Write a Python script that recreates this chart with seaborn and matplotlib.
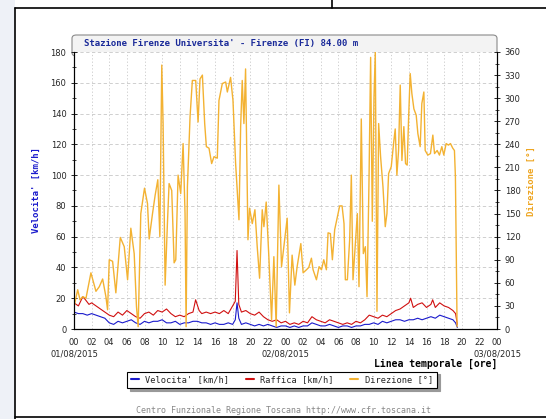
import numpy as np
import pandas as pd
import matplotlib
matplotlib.use('Agg')
import matplotlib.pyplot as plt
from matplotlib.patches import FancyBboxPatch, Rectangle
from matplotlib.lines import Line2D
import seaborn as sns

# ── data (hours from 01/08/2015 00:00) ──
dir_hours = [0.00, 0.42, 0.68, 0.98, 1.36, 1.92, 2.49, 2.87, 3.25, 3.62, 3.81, 4.00, 4.38, 4.75,
             5.25, 5.70, 6.08, 6.45, 6.83, 7.09, 7.28, 7.58, 8.00, 8.34, 8.53, 8.91, 9.21, 9.51,
             9.74, 9.96, 10.11, 10.34, 10.60, 10.79, 11.09, 11.36, 11.55, 11.81, 12.11, 12.38,
             12.60, 12.72, 12.87, 13.17, 13.43, 13.81, 14.08, 14.30, 14.57, 14.83, 15.02, 15.32,
             15.62, 15.89, 16.26, 16.45, 16.83, 17.21, 17.40, 17.77, 18.04, 18.34, 18.72, 18.91,
             19.09, 19.28, 19.47, 19.74, 19.92, 20.23, 20.53, 20.79, 21.06, 21.36, 21.55, 21.81,
             22.11, 22.42, 22.68, 22.94, 23.25, 23.55, 23.81, 24.19, 24.45, 24.75, 25.06, 25.32,
             25.74, 26.00, 26.38, 26.64, 26.94, 27.13, 27.51, 27.81, 28.08, 28.34, 28.64, 28.83,
             29.09, 29.32, 29.58, 29.89, 30.15, 30.42, 30.64, 30.79, 31.02, 31.28, 31.47, 31.66,
             31.85, 32.15, 32.34, 32.60, 32.83, 33.06, 33.25, 33.47, 33.66, 33.85, 34.04, 34.19,
             34.38, 34.57, 34.79, 35.06, 35.32, 35.51, 35.70, 36.00, 36.30, 36.45, 36.64, 36.83,
             37.02, 37.21, 37.43, 37.62, 37.81, 37.96, 38.15, 38.34, 38.57, 38.83, 39.02, 39.28,
             39.47, 39.70, 39.85, 40.15, 40.45, 40.72, 40.91, 41.21, 41.47, 41.74, 41.96, 42.23,
             42.49, 42.72, 42.98, 43.17, 43.28, 43.40, 43.47]
direction = [29, 51, 38, 42, 40, 73, 49, 55, 65, 42, 25, 90, 88, 47,
             119, 107, 64, 131, 98, 29, 3, 150, 183, 163, 117, 150, 174, 194,
             120, 343, 267, 57, 137, 189, 180, 86, 90, 200, 176, 241,
             150, 3, 185, 276, 323, 323, 269, 325, 330, 267, 237, 235,
             215, 224, 222, 297, 319, 321, 308, 327, 297, 215, 142, 263,
             323, 267, 338, 116, 157, 137, 155, 107, 66, 155, 133, 165,
             94, 12, 94, 3, 187, 81, 107, 144, 21, 96, 57, 81,
             111, 73, 77, 80, 92, 77, 64, 81, 77, 90, 77, 125,
             124, 90, 129, 146, 160, 160, 137, 64, 64, 116, 200, 64,
             98, 150, 55, 273, 98, 107, 42, 189, 353, 140, 301, 360,
             23, 267, 224, 185, 133, 150, 202, 211, 245, 260, 200, 232,
             317, 219, 263, 215, 213, 271, 332, 306, 286, 278, 254, 237,
             293, 308, 232, 226, 228, 252, 228, 232, 226, 237, 226, 241,
             239, 241, 235, 232, 198, 73, 3]

wind_hours = [0, 0.5, 1, 1.5, 2, 2.5, 3, 3.5, 4, 4.5, 5, 5.5, 6, 6.5, 7, 7.5, 8, 8.5, 9, 9.5,
              10, 10.5, 11, 11.5, 12, 12.5, 13, 13.5, 14, 14.5, 15, 15.5, 16, 16.5, 17, 17.5,
              18, 18.3, 18.5, 18.7, 19, 19.5, 20, 20.5, 21, 21.5, 22, 22.5, 23, 23.5, 24, 24.5,
              25, 25.5, 26, 26.5, 27, 27.5, 28, 28.5, 29, 29.5, 30, 30.5, 31, 31.5, 32, 32.5,
              33, 33.5, 34, 34.5, 35, 35.5, 36, 36.5, 37, 37.5, 38, 38.5, 39, 39.5, 40, 40.5,
              41, 41.5, 42, 42.5, 43, 43.3, 43.5]
speed = [11, 10, 10, 9, 10, 9, 8, 7, 4, 3, 5, 4, 5, 6, 4, 3, 5, 4, 5, 5,
         6, 4, 4, 5, 3, 4, 4, 5, 5, 4, 4, 3, 4, 3, 3, 4,
         3, 6, 17, 7, 3, 4, 3, 2, 3, 2, 3, 2, 1, 2, 2, 1,
         2, 1, 2, 2, 4, 3, 2, 2, 3, 2, 1, 2, 2, 1, 2, 2,
         3, 3, 4, 3, 5, 4, 5, 6, 6, 5, 6, 6, 7, 6, 7, 8,
         7, 9, 8, 7, 6, 4, 1]

gust_hours = [0, 0.5, 1, 1.3, 1.7, 2, 2.5, 3, 3.5, 4, 4.5, 5, 5.5, 6, 6.5, 7, 7.5, 8, 8.5, 9,
              9.5, 10, 10.5, 11, 11.5, 12, 12.5, 13, 13.5, 13.8, 14.2, 14.5, 15, 15.5, 16, 16.5,
              17, 17.5, 18, 18.3, 18.5, 18.7, 19, 19.5, 20, 20.5, 21, 21.5, 22, 22.5, 23, 23.5,
              24, 24.5, 25, 25.5, 26, 26.5, 27, 27.5, 28, 28.5, 29, 29.5, 30, 30.5, 31, 31.5,
              32, 32.5, 33, 33.5, 34, 34.5, 35, 35.5, 36, 36.5, 37, 37.5, 38, 38.2, 38.5, 39,
              39.5, 40, 40.5, 40.7, 41, 41.5, 42, 42.5, 43, 43.3, 43.5]
gust = [17, 15, 21, 19, 16, 17, 15, 13, 11, 9, 8, 11, 9, 12, 10, 8, 7, 10, 11, 9,
        12, 11, 13, 10, 8, 9, 8, 10, 11, 19, 12, 10, 11, 10, 11, 10,
        12, 10, 15, 18, 51, 16, 11, 12, 10, 9, 11, 8, 6, 5, 6, 4,
        5, 3, 4, 3, 5, 4, 8, 6, 5, 4, 6, 5, 4, 3, 4, 3,
        5, 4, 6, 9, 8, 7, 9, 8, 10, 12, 13, 15, 17, 20, 14, 16,
        17, 14, 16, 19, 14, 17, 15, 14, 12, 10, 3]

hour_ticks = list(range(0, 49, 2))
hour_labels = ['%02d' % (h % 24) for h in hour_ticks]
day_ticks = [0, 24, 48]
day_labels = ['01/08/2015', '02/08/2015', '03/08/2015']

BLUE = '#1a1acc'
RED = '#d01010'
ORANGE = '#f3b232'
MONO = 'DejaVu Sans Mono'

sns.set_style('white')
plt.rcParams['font.family'] = ['DejaVu Sans']

fig = plt.figure(figsize=(5.46, 4.19), dpi=100, facecolor='white')

# background strip + page frame
fig.patches.append(Rectangle((0, 0), 15 / 546, 1, transform=fig.transFigure,
                             facecolor='#eef1f7', edgecolor='none', zorder=0))
for xs, ys in [([15 / 546, 1], [1 - 8 / 419] * 2), ([15 / 546] * 2, [0, 1 - 8 / 419]),
               ([15 / 546, 1], [0.004, 0.004]), ([332 / 546] * 2, [1 - 8 / 419, 1])]:
    fig.add_artist(Line2D(xs, ys, transform=fig.transFigure, color='black', lw=1.2))

# title box
fig.patches.append(FancyBboxPatch((72 / 546, 1 - 56 / 419), 425 / 546, 21 / 419,
                                  boxstyle='round,pad=0,rounding_size=0.008',
                                  transform=fig.transFigure, facecolor='#f3f3f3',
                                  edgecolor='#8a8a8a', lw=0.8, zorder=1))
fig.text(84 / 546, 1 - 43.5 / 419, "Stazione Firenze Universita' - Firenze (FI) 84.00 m",
         family=MONO, fontweight='bold', fontsize=6.5, color='#1a2a99', va='center', zorder=3)

ax = fig.add_axes([74 / 546, 1 - 329 / 419, 423 / 546, 277 / 419])
ax.set_zorder(2)
ax2 = ax.twinx()

sns.lineplot(x=wind_hours, y=speed, ax=ax, color=BLUE, lw=0.8, sort=False, estimator=None)
sns.lineplot(x=gust_hours, y=gust, ax=ax, color=RED, lw=0.8, sort=False, estimator=None)
sns.lineplot(x=dir_hours, y=direction, ax=ax2, color=ORANGE, lw=1.0, sort=False, estimator=None)

ax.set_xlim(0, 48)
ax.set_ylim(0, 180)
ax2.set_ylim(0, 360)
ax.set_yticks(range(0, 181, 20))
ax.set_yticks(range(0, 181, 10), minor=True)
ax2.set_yticks(range(0, 361, 30))
ax2.set_yticks(range(0, 361, 15), minor=True)
ax.set_xticks(hour_ticks)
ax.set_xticks(range(0, 49), minor=True)
ax.set_xticklabels(hour_labels, fontsize=6)
for h, lab in zip(day_ticks, day_labels):
    ax.text(h, -0.09, lab, transform=ax.get_xaxis_transform(), fontsize=6,
            ha='center', va='center')
ax.tick_params(axis='y', labelsize=6, direction='inout', length=5, width=0.7, pad=3)
ax.tick_params(axis='y', which='minor', direction='inout', length=3, width=0.6)
ax.tick_params(axis='x', labelsize=6, direction='in', length=4, width=0.7, pad=6.5)
ax.tick_params(axis='x', which='minor', direction='in', length=2, width=0.6)
ax2.tick_params(axis='y', labelsize=6, direction='inout', length=5, width=0.7, pad=3)
ax2.tick_params(axis='y', which='minor', direction='inout', length=3, width=0.6)
ax.set_xlabel('')
ax.set_ylabel('')
ax2.set_ylabel('')

ax.grid(True, axis='y', color='#c8c8c8', ls=(0, (4, 3)), lw=0.6)
ax.grid(True, axis='x', color='#c8c8c8', ls=(0, (1.5, 2.5)), lw=0.6)
for a in (ax, ax2):
    for s in a.spines.values():
        s.set_color('black')
        s.set_linewidth(0.8)
    a.spines['top'].set_visible(False)

fig.text(36 / 546, 1 - 190 / 419, "Velocita' [km/h]", rotation=90, family=MONO,
         fontweight='bold', fontsize=6.5, color=BLUE, ha='center', va='center')
fig.text(531 / 546, 1 - 181 / 419, 'Direzione [°]', rotation=90, family=MONO,
         fontweight='bold', fontsize=6.5, color='#eea520', ha='center', va='center')
fig.text(497 / 546, 1 - 364 / 419, 'Linea temporale [ore]', family=MONO,
         fontweight='bold', fontsize=7, color='black', ha='right', va='center')

handles = [Line2D([], [], color=BLUE, lw=1.5), Line2D([], [], color=RED, lw=1.5),
           Line2D([], [], color=ORANGE, lw=1.5)]
leg = fig.legend(handles, ["Velocita' [km/h]", 'Raffica [km/h]', 'Direzione [°]'],
                 loc='center', bbox_to_anchor=(282 / 546, 1 - 380 / 419), ncol=3,
                 prop={'family': MONO, 'size': 6.2}, frameon=True, fancybox=False,
                 shadow={'color': '#999999', 'alpha': 1}, edgecolor='black',
                 handlelength=0.9, handletextpad=0.8, columnspacing=1.9,
                 borderpad=0.45)
leg.get_frame().set_linewidth(0.8)

fig.text(283 / 546, 1 - 410 / 419, 'Centro Funzionale Regione Toscana http://www.cfr.toscana.it',
         family=MONO, fontsize=6, color='#888888', ha='center', va='center')

fig.savefig('out.png', dpi=100, facecolor='white')
